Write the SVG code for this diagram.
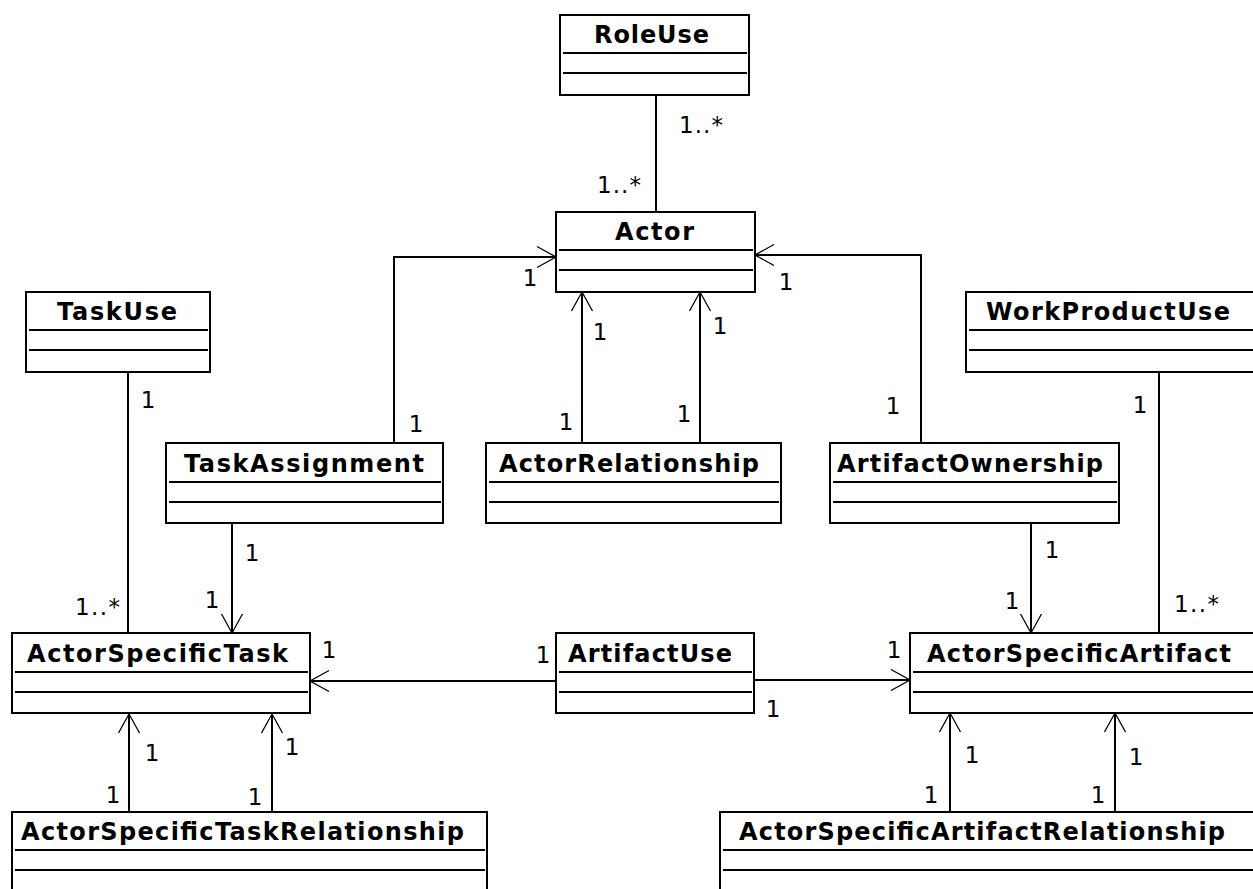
<svg xmlns="http://www.w3.org/2000/svg" width="1253" height="889" viewBox="0 0 1253 889">
  <style>
    .box { fill: #fff; stroke: #000; stroke-width: 2; }
    .sep { stroke: #000; stroke-width: 2; }
    .name { font-family: "DejaVu Sans", "Liberation Sans", sans-serif; font-weight: bold; font-size: 24px; fill: #000; }
    .edge { fill: none; stroke: #000; stroke-width: 2; }
    .arrow { fill: none; stroke: #000; stroke-width: 2; marker-end: url(#open); }
    .mult { font-family: "DejaVu Sans", "Liberation Sans", sans-serif; font-size: 23px; fill: #000; text-anchor: middle; }
    .multL { font-family: "DejaVu Sans", "Liberation Sans", sans-serif; font-size: 23px; fill: #000; }
  </style>
  <defs>
    <marker id="open" markerUnits="userSpaceOnUse" viewBox="-21 -12 23 24" markerWidth="23" markerHeight="24" refX="0" refY="0" orient="auto">
      <path d="M-19,-10.5 L0,0 L-19,10.5" fill="none" stroke="#000" stroke-width="1.3"/>
    </marker>
  </defs>
  <rect width="1253" height="889" fill="#fff"/>

  <!-- associations -->
  <g id="connectors">
    <path class="edge" d="M656,95 V212"/>
    <path class="arrow" d="M394,443 V257 H556"/>
    <path class="arrow" d="M582,443 V292"/>
    <path class="arrow" d="M700,443 V292"/>
    <path class="arrow" d="M921,443 V255 H755"/>
    <path class="edge" d="M128,372 V633"/>
    <path class="arrow" d="M232,523 V633"/>
    <path class="arrow" d="M556,681 H310"/>
    <path class="arrow" d="M754,680 H910"/>
    <path class="arrow" d="M1031,523 V633"/>
    <path class="edge" d="M1159,372 V633"/>
    <path class="arrow" d="M129,812 V714"/>
    <path class="arrow" d="M272,812 V714"/>
    <path class="arrow" d="M950,812 V713"/>
    <path class="arrow" d="M1115,812 V713"/>

    <text class="multL" x="679" y="133" textLength="44">1..*</text>
    <text class="multL" x="597" y="193" textLength="44">1..*</text>
    <text class="mult" x="530" y="286">1</text>
    <text class="mult" x="416" y="432">1</text>
    <text class="mult" x="600" y="340">1</text>
    <text class="mult" x="566" y="430">1</text>
    <text class="mult" x="720" y="334">1</text>
    <text class="mult" x="684" y="422">1</text>
    <text class="mult" x="786" y="290">1</text>
    <text class="mult" x="893" y="414">1</text>
    <text class="mult" x="148" y="408">1</text>
    <text class="multL" x="75" y="615" textLength="45">1..*</text>
    <text class="mult" x="252" y="561">1</text>
    <text class="mult" x="212" y="608">1</text>
    <text class="mult" x="329" y="658">1</text>
    <text class="mult" x="543" y="663">1</text>
    <text class="mult" x="773" y="717">1</text>
    <text class="mult" x="894" y="658">1</text>
    <text class="mult" x="1052" y="558">1</text>
    <text class="mult" x="1012" y="609">1</text>
    <text class="mult" x="1140" y="413">1</text>
    <text class="multL" x="1174" y="612" textLength="45">1..*</text>
    <text class="mult" x="152" y="761">1</text>
    <text class="mult" x="113" y="803">1</text>
    <text class="mult" x="292" y="755">1</text>
    <text class="mult" x="255" y="805">1</text>
    <text class="mult" x="972" y="763">1</text>
    <text class="mult" x="931" y="803">1</text>
    <text class="mult" x="1136" y="765">1</text>
    <text class="mult" x="1098" y="803">1</text>
  </g>

  <g id="RoleUse">
    <rect class="box" x="560" y="15" width="189" height="80"/>
    <path class="sep" d="M563,53 H747 M563,73 H747"/>
    <text class="name" x="594" y="43" textLength="115">RoleUse</text>
  </g>
  <g id="Actor">
    <rect class="box" x="556" y="212" width="199" height="80"/>
    <path class="sep" d="M559,250 H753 M559,270 H753"/>
    <text class="name" x="615" y="240" textLength="79">Actor</text>
  </g>
  <g id="TaskUse">
    <rect class="box" x="26" y="292" width="184" height="80"/>
    <path class="sep" d="M29,330 H208 M29,350 H208"/>
    <text class="name" x="57" y="320" textLength="120">TaskUse</text>
  </g>
  <g id="WorkProductUse">
    <rect class="box" x="966" y="292" width="300" height="80"/>
    <path class="sep" d="M969,330 H1266 M969,350 H1266"/>
    <text class="name" x="986" y="320" textLength="244">WorkProductUse</text>
  </g>
  <g id="TaskAssignment">
    <rect class="box" x="166" y="443" width="277" height="80"/>
    <path class="sep" d="M169,482 H441 M169,502 H441"/>
    <text class="name" x="184" y="472" textLength="240">TaskAssignment</text>
  </g>
  <g id="ActorRelationship">
    <rect class="box" x="486" y="443" width="295" height="80"/>
    <path class="sep" d="M489,482 H779 M489,502 H779"/>
    <text class="name" x="499" y="472" textLength="260">ActorRelationship</text>
  </g>
  <g id="ArtifactOwnership">
    <rect class="box" x="830" y="443" width="289" height="80"/>
    <path class="sep" d="M833,482 H1117 M833,502 H1117"/>
    <text class="name" x="837" y="472" textLength="266">ArtifactOwnership</text>
  </g>
  <g id="ActorSpecificTask">
    <rect class="box" x="12" y="633" width="298" height="80"/>
    <path class="sep" d="M15,672 H308 M15,692 H308"/>
    <text class="name" x="27" y="662" textLength="261">ActorSpecificTask</text>
  </g>
  <g id="ArtifactUse">
    <rect class="box" x="556" y="633" width="198" height="80"/>
    <path class="sep" d="M559,672 H752 M559,692 H752"/>
    <text class="name" x="568" y="662" textLength="164">ArtifactUse</text>
  </g>
  <g id="ActorSpecificArtifact">
    <rect class="box" x="910" y="633" width="360" height="80"/>
    <path class="sep" d="M913,672 H1270 M913,692 H1270"/>
    <text class="name" x="927" y="662" textLength="304">ActorSpecificArtifact</text>
  </g>
  <g id="ActorSpecificTaskRelationship">
    <rect class="box" x="12" y="812" width="475" height="90"/>
    <path class="sep" d="M15,850 H485 M15,870 H485"/>
    <text class="name" x="21" y="840" textLength="443">ActorSpecificTaskRelationship</text>
  </g>
  <g id="ActorSpecificArtifactRelationship">
    <rect class="box" x="720" y="812" width="550" height="90"/>
    <path class="sep" d="M723,850 H1270 M723,870 H1270"/>
    <text class="name" x="739" y="840" textLength="486">ActorSpecificArtifactRelationship</text>
  </g>
</svg>
